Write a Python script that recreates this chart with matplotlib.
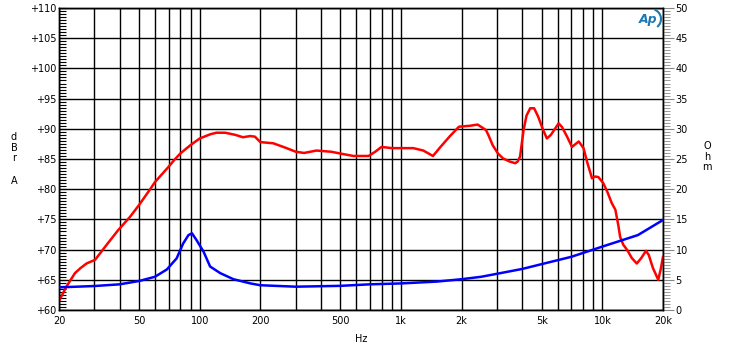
import numpy as np
import matplotlib
matplotlib.use("Agg")
import matplotlib.pyplot as plt
from matplotlib.ticker import FixedLocator, MultipleLocator, NullFormatter
from matplotlib.patches import Arc

# ── DANE ─────────────────────────────────────────────────────────────────────
spl_freq = [20, 21.8, 24, 25.5, 27.4, 30.2, 34.5, 39.3, 45, 50, 57, 60, 65, 70, 75,
            80, 90, 100, 113, 121, 134, 150, 164, 178, 188, 200, 232, 270, 300, 330,
            380, 450, 500, 580, 690, 744, 800, 900, 1000, 1150, 1290, 1440, 1570,
            1750, 1940, 2200, 2400, 2640, 2720, 2850, 3030, 3210, 3450, 3690, 3800,
            3900, 4060, 4200, 4380, 4580, 4800, 5050, 5300, 5550, 6060, 6300, 6700,
            7060, 7630, 8060, 8400, 8880, 9200, 9560, 10100, 10600, 11130, 11600,
            12000, 12250, 12700, 13300, 14000, 14820, 15600, 16460, 17000, 17800,
            18940, 19500, 20000]
spl_db = [61.5, 63.9, 66.1, 66.9, 67.7, 68.3, 70.8, 73.2, 75.4, 77.4, 80.1, 81.2,
          82.5, 83.7, 84.9, 85.9, 87.3, 88.4, 89.1, 89.35, 89.35, 89.0, 88.6, 88.8,
          88.7, 87.8, 87.6, 86.8, 86.2, 86.0, 86.4, 86.2, 85.9, 85.5, 85.5, 86.2,
          87.0, 86.8, 86.8, 86.8, 86.4, 85.5, 87.0, 88.8, 90.35, 90.5, 90.7, 89.8,
          88.9, 87.3, 85.9, 85.1, 84.6, 84.3, 84.6, 85.4, 89.8, 92.2, 93.4, 93.4,
          92.0, 90.0, 88.4, 89.0, 90.9, 90.3, 88.6, 87.0, 87.9, 86.8, 84.5, 81.8,
          82.1, 82.0, 81.0, 79.5, 77.7, 76.6, 74.0, 72.1, 70.8, 69.9, 68.6, 67.7,
          68.6, 69.8, 69.1, 67.0, 65.0, 66.8, 68.8]

imp_freq = [20, 30, 40, 50, 59.9, 68.6, 76.8, 82.7, 87.9, 91.5, 96.3, 104.5, 112.6,
            126.5, 147, 178.6, 200, 300, 500, 700, 1000, 1500, 2000, 2500, 3000,
            4000, 5000, 7000, 10000, 15000, 20000]
imp_ohm = [3.75, 3.97, 4.25, 4.8, 5.5, 6.7, 8.55, 11.0, 12.4, 12.7, 11.6, 9.65, 7.2,
           6.1, 5.1, 4.4, 4.1, 3.86, 4.0, 4.25, 4.4, 4.7, 5.1, 5.5, 6.0, 6.8, 7.6,
           8.8, 10.5, 12.4, 14.9]

x_ticks  = [20, 50, 100, 200, 500, 1000, 2000, 5000, 10000, 20000]
x_labels = ["20", "50", "100", "200", "500", "1k", "2k", "5k", "10k", "20k"]
x_grid   = [20, 30, 40, 50, 60, 70, 80, 90, 100, 200, 300, 400, 500, 600, 700, 800,
            900, 1000, 2000, 3000, 4000, 5000, 6000, 7000, 8000, 9000, 10000, 20000]
db_ticks = [60, 65, 70, 75, 80, 85, 90, 95, 100, 105, 110]
ohm_ticks = [0, 5, 10, 15, 20, 25, 30, 35, 40, 45, 50]

# ── WYKRES ───────────────────────────────────────────────────────────────────
plt.rcParams["font.family"] = ["DejaVu Sans"]
fig = plt.figure(figsize=(7.3, 3.43), dpi=100)
ax = fig.add_axes([59/730, 33/343, 604/730, 302/343])
ax.set_xscale("log")
ax.set_xlim(20, 20000)
ax.set_ylim(60, 110)

for f in x_grid:
    ax.axvline(f, color="black", lw=1.0, zorder=1)
for d in db_ticks:
    ax.axhline(d, color="black", lw=1.0, zorder=1)

ax.xaxis.set_major_locator(FixedLocator(x_ticks))
ax.set_xticklabels(x_labels)
ax.xaxis.set_minor_formatter(NullFormatter())
ax.tick_params(axis="x", which="both", length=0, labelsize=7, pad=4)

ax.set_yticks(db_ticks)
ax.set_yticklabels([f"+{d}" for d in db_ticks])
ax.yaxis.set_minor_locator(MultipleLocator(0.5))
ax.tick_params(axis="y", which="major", direction="in", length=5, labelsize=7, pad=2)
ax.tick_params(axis="y", which="minor", direction="in", length=5, width=0.8)

ax.plot(spl_freq, spl_db, color="#ff0000", lw=1.8, zorder=3)

ax2 = ax.twinx()
ax2.set_ylim(0, 50)
ax2.set_yticks(ohm_ticks)
ax2.yaxis.set_minor_locator(MultipleLocator(0.5))
ax2.tick_params(axis="y", which="major", direction="out", length=8, color="#888888",
                labelsize=7, pad=1)
ax2.tick_params(axis="y", which="minor", direction="out", length=5, color="#888888")
ax2.plot(imp_freq, imp_ohm, color="#0000ff", lw=1.8, zorder=3)

for a in (ax, ax2):
    for s in a.spines.values():
        s.set_color("black")
        s.set_linewidth(1.0)

ax.set_xlabel("Hz", fontsize=7, labelpad=6)

# pionowe etykiety osi
for i, ch in enumerate(["d", "B", "r"]):
    fig.text(14/730, 1 - (137 + i*10.5)/343, ch, fontsize=7, ha="center", va="center")
fig.text(14/730, 1 - 181/343, "A", fontsize=7, ha="center", va="center")
for i, ch in enumerate(["O", "h", "m"]):
    fig.text(707/730, 1 - (146 + i*10.5)/343, ch, fontsize=7, ha="center", va="center")

# logo AP
fig.text(648/730, 1 - 19/343, "Ap", fontsize=9, fontweight="bold", fontstyle="italic",
         color="#1a78b4", ha="center", va="center")
fig.patches.append(Arc((651/730, 1 - 19/343), 20/730, 20/343, theta1=-70, theta2=80,
                       transform=fig.transFigure, color="#1a78b4", lw=1.5))

fig.savefig("out.png", dpi=100)
